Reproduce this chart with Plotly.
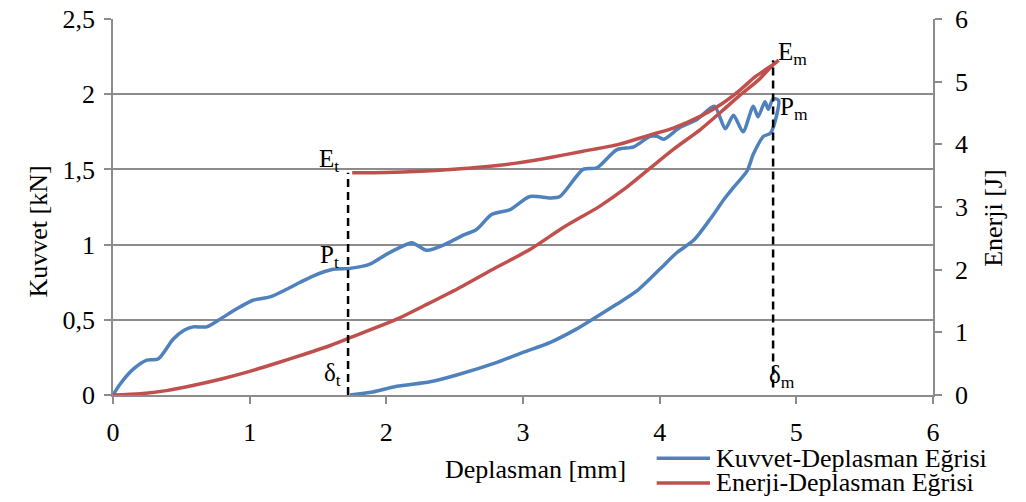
import plotly.graph_objects as go

# Force-displacement (Kuvvet-Deplasman) curve: loading then unloading
force_x = [0, 0.05, 0.146, 0.247, 0.33, 0.44, 0.52, 0.586, 0.686, 0.783, 0.9, 1.024, 1.149, 1.271,
           1.37, 1.463, 1.61, 1.734, 1.88, 2.0, 2.10, 2.186, 2.295, 2.44, 2.563, 2.66, 2.77, 2.905,
           3.05, 3.20, 3.27, 3.44, 3.54, 3.685, 3.81, 3.93, 3.98, 4.03, 4.15, 4.27, 4.40, 4.48,
           4.54, 4.61, 4.685, 4.72, 4.77, 4.795, 4.83, 4.87,
           4.856, 4.81, 4.76, 4.685, 4.64, 4.54, 4.47, 4.37, 4.25, 4.125, 4.0, 3.83, 3.685, 3.51,
           3.39, 3.20, 3.00, 2.81, 2.515, 2.32, 2.076, 1.9, 1.734]
force_y = [0, 0.07, 0.17, 0.232, 0.239, 0.371, 0.43, 0.453, 0.453, 0.504, 0.57, 0.63, 0.652, 0.703,
           0.75, 0.791, 0.836, 0.842, 0.87, 0.935, 0.981, 1.013, 0.962, 1.006, 1.063, 1.10, 1.20, 1.233,
           1.32, 1.31, 1.32, 1.50, 1.51, 1.63, 1.65, 1.72, 1.72, 1.70, 1.78, 1.83, 1.92, 1.77,
           1.86, 1.75, 1.92, 1.85, 1.95, 1.90, 1.97, 1.96,
           1.86, 1.74, 1.72, 1.60, 1.49, 1.38, 1.30, 1.17, 1.03, 0.946, 0.836, 0.69, 0.603, 0.504,
           0.438, 0.35, 0.283, 0.217, 0.133, 0.088, 0.058, 0.02, 0]

# Energy-displacement (Enerji-Deplasman) curve
energy_x = [0, 0.2, 0.39, 0.6, 0.8, 1.0, 1.2, 1.4, 1.59, 1.73, 2.076, 2.3, 2.56, 2.8, 3.05, 3.3,
            3.56, 3.75, 3.93, 4.1, 4.3, 4.45, 4.59, 4.72, 4.83, 4.87,
            4.83, 4.7, 4.59, 4.45, 4.30, 4.1, 3.93, 3.7, 3.44, 3.2, 2.95, 2.7, 2.47, 2.25, 2.0, 1.75]
energy_y = [0, 0.02, 0.07, 0.16, 0.26, 0.377, 0.51, 0.65, 0.79, 0.91, 1.21, 1.45, 1.74, 2.03, 2.32, 2.68,
            3.01, 3.3, 3.62, 3.92, 4.24, 4.52, 4.79, 5.02, 5.27, 5.34,
            5.27, 5.08, 4.87, 4.64, 4.45, 4.26, 4.15, 4.0, 3.89, 3.79, 3.70, 3.64, 3.60, 3.57, 3.55, 3.546]

# Marker positions (delta_t, delta_m) and energies / forces
delta_t = 1.72
delta_m = 4.83
E_t = 3.546
E_m = 5.34
P_t = 0.84
P_m = 1.9

left_ticks = [0, 0.5, 1, 1.5, 2, 2.5]
left_labels = ["0", "0,5", "1", "1,5", "2", "2,5"]
right_ticks = [0, 1, 2, 3, 4, 5, 6]
x_ticks = [0, 1, 2, 3, 4, 5, 6]
series_names = ["Kuvvet-Deplasman Eğrisi", "Enerji-Deplasman Eğrisi"]

FONT = "Liberation Serif, Times New Roman, Tinos, serif"
BLUE = "#4F81BD"
RED = "#C0504D"
GRID = "#8C8C8C"
FS = 26

fig = go.Figure()
fig.add_trace(go.Scatter(x=force_x, y=force_y, mode="lines", name=series_names[0],
                         line=dict(color=BLUE, width=3.5, shape="spline", smoothing=0.7)))
fig.add_trace(go.Scatter(x=energy_x, y=energy_y, mode="lines", name=series_names[1],
                         yaxis="y2", line=dict(color=RED, width=3.5, shape="spline", smoothing=0.7)))
# dashed guide lines
fig.add_trace(go.Scatter(x=[delta_t, delta_t], y=[0, E_t], yaxis="y2", mode="lines",
                         showlegend=False, line=dict(color="black", width=2.5, dash="8px,5px")))
fig.add_trace(go.Scatter(x=[delta_m, delta_m], y=[0.12, E_m], yaxis="y2", mode="lines",
                         showlegend=False, line=dict(color="black", width=2.5, dash="8px,5px")))

ann_font = dict(family=FONT, size=25, color="black")
title_font = dict(family=FONT, size=FS, color="black")
annotations = [
    dict(x=delta_t, y=E_t, yref="y2", text="E<sub>t</sub>", xanchor="right", yanchor="bottom",
         showarrow=False, font=ann_font, xshift=-7, yshift=-5),
    dict(x=delta_t, y=P_t, yref="y", text="P<sub>t</sub>", xanchor="right", yanchor="bottom",
         showarrow=False, font=ann_font, xshift=-7, yshift=-5),
    dict(x=delta_t, y=0, yref="y", text="δ<sub>t</sub>", xanchor="right", yanchor="bottom",
         showarrow=False, font=ann_font, xshift=-5, yshift=3),
    dict(x=delta_m, y=E_m, yref="y2", text="E<sub>m</sub>", xanchor="left", yanchor="middle",
         showarrow=False, font=ann_font, xshift=3, yshift=7),
    dict(x=delta_m, y=P_m, yref="y", text="P<sub>m</sub>", xanchor="left", yanchor="middle",
         showarrow=False, font=ann_font, xshift=5, yshift=1),
    dict(x=delta_m, y=0, yref="y", text="δ<sub>m</sub>", xanchor="left", yanchor="bottom",
         showarrow=False, font=ann_font, xshift=-6, yshift=1),
    dict(x=-0.111, y=0.436, xref="paper", yref="paper", text="Kuvvet [kN]", textangle=-90,
         showarrow=False, font=title_font),
    dict(x=1.094, y=0.47, xref="paper", yref="paper", text="Enerji [J]", textangle=-90,
         showarrow=False, font=title_font),
    dict(x=0.515, y=-0.197, xref="paper", yref="paper", text="Deplasman [mm]", yanchor="middle",
         showarrow=False, font=title_font),
]
# manual legend (text + line sample)
legend_rows = [-0.168, -0.234]
shapes = []
for name, color, yy in zip(series_names, [BLUE, RED], legend_rows):
    annotations.append(dict(x=0.733, y=yy, xref="paper", yref="paper", text=name, xanchor="left",
                            yanchor="middle", showarrow=False, font=title_font))
    shapes.append(dict(type="line", xref="paper", yref="paper", x0=0.663, x1=0.728, y0=yy, y1=yy,
                       line=dict(color=color, width=3.5)))

axis_common = dict(zeroline=False, showline=True, linecolor=GRID, linewidth=1.5, ticks="outside",
                   ticklen=7, tickcolor=GRID, tickwidth=1.5, ticklabeloverflow="allow",
                   tickfont=dict(family=FONT, size=FS))

fig.update_layout(
    width=1026, height=502,
    margin=dict(l=105, r=101, t=11, b=115, autoexpand=False),
    paper_bgcolor="white", plot_bgcolor="white",
    font=dict(family=FONT, size=FS, color="black"),
    xaxis=dict(range=[0, 6], tickvals=x_ticks, showgrid=False, ticklabelstandoff=6, **axis_common),
    yaxis=dict(range=[0, 2.5], tickvals=left_ticks, ticktext=left_labels, showgrid=True,
               gridcolor=GRID, gridwidth=1.5, ticklabelstandoff=4, **axis_common),
    yaxis2=dict(range=[0, 6], tickvals=right_ticks, overlaying="y", side="right", showgrid=False,
                ticklabelstandoff=8, **axis_common),
    showlegend=False,
    annotations=annotations,
    shapes=shapes,
)

fig.write_html("out.html")
